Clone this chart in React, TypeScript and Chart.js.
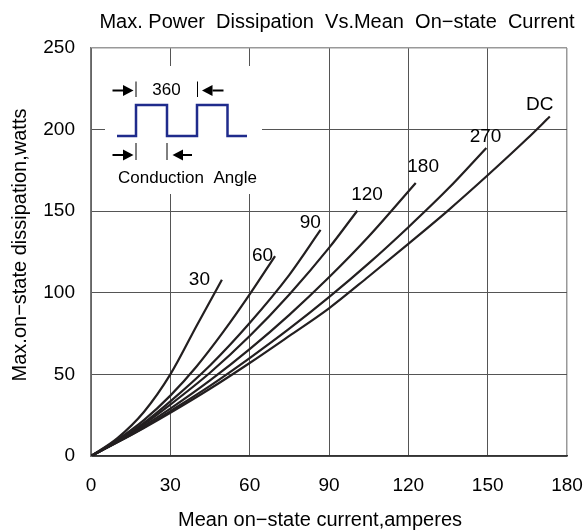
import React, { useEffect, useRef } from 'react';
import { Chart, registerables } from 'chart.js';

Chart.register(...registerables);

const FONT = '"Liberation Sans", Arial, Helvetica, sans-serif';

const titleText = 'Max. Power  Dissipation  Vs.Mean  On\u2212state  Current';
const xAxisTitle = 'Mean on\u2212state current,amperes';
const yAxisTitle = 'Max.on\u2212state dissipation,watts';

const xTickValues = [0, 30, 60, 90, 120, 150, 180];
const yTickValues = [0, 50, 100, 150, 200, 250];

const curveNames = ['30', '60', '90', '120', '180', '270', 'DC'];

const current30 = [0, 10, 20, 30, 40, 49.5];
const power30 = [0, 11, 27, 50, 80, 108];

const current60 = [0, 10, 20, 30, 40, 50, 60, 69.6];
const power60 = [0, 10, 22, 37, 55, 76, 99, 122.5];

const current90 = [0, 10, 20, 30, 45, 60, 75, 86.8];
const power90 = [0, 9.2, 20.3, 33.5, 55.5, 81.5, 111, 138.5];

const current120 = [0, 10, 20, 30, 45, 60, 75, 90, 100.7];
const power120 = [0, 9, 19.5, 31.5, 51, 73.5, 99, 127.5, 150.3];

const current180 = [0, 10, 20, 30, 45, 60, 75, 90, 105, 122.8];
const power180 = [0, 8.7, 18.4, 29, 46.3, 65.5, 86.5, 109.5, 134.5, 167.3];

const current270 = [0, 10, 20, 30, 45, 60, 75, 90, 105, 120, 135, 149.5];
const power270 = [0, 8.5, 17.5, 27.5, 43, 60, 78, 97.3, 118, 140.2, 163.7, 188.8];

const currentDC = [0, 10, 20, 30, 45, 60, 75, 90, 105, 120, 135, 150, 165, 173.5];
const powerDC = [0, 8.4, 17.2, 26.5, 41.2, 57, 73.6, 90.5, 110, 130, 150.4, 172, 194.5, 208];

const curveCurrents = [current30, current60, current90, current120, current180, current270, currentDC];
const curvePowers = [power30, power60, power90, power120, power180, power270, powerDC];

// label anchors in data units
const labelAnchorX = [41, 64.9, 82.9, 104.4, 125.6, 149.2, 169.7];
const labelAnchorY = [108, 122.7, 142.8, 160.1, 177.5, 195.5, 215.3];

const LINE_COLOR = '#231f20';
const WAVE_COLOR = '#1f2b8c';

function arrow(ctx: CanvasRenderingContext2D, tail: number, tip: number, y: number) {
  const dir = tip > tail ? 1 : -1;
  const base = tip - dir * 10.5;
  ctx.beginPath();
  ctx.moveTo(tail, y);
  ctx.lineTo(base, y);
  ctx.stroke();
  ctx.beginPath();
  ctx.moveTo(tip, y);
  ctx.lineTo(base, y - 5.5);
  ctx.lineTo(base, y + 5.5);
  ctx.closePath();
  ctx.fill();
}

const annotatePlugin = {
  id: 'annotate',
  beforeDatasetsDraw(chart: any) {
    const { ctx } = chart;
    ctx.save();
    ctx.fillStyle = '#fff';
    ctx.fillRect(105, 66, 157, 128);
    ctx.restore();
  },
  afterDraw(chart: any) {
    const { ctx, scales } = chart;
    const xs = scales.x;
    const ys = scales.y;
    ctx.save();
    ctx.fillStyle = '#000';
    ctx.textAlign = 'center';
    ctx.textBaseline = 'middle';

    ctx.font = `20px ${FONT}`;
    ctx.fillText(titleText, 337, 22);
    ctx.fillText(xAxisTitle, 320, 520);
    ctx.save();
    ctx.translate(20, 245);
    ctx.rotate(-Math.PI / 2);
    ctx.fillText(yAxisTitle, 0, 0);
    ctx.restore();

    ctx.font = `19px ${FONT}`;
    curveNames.forEach((name, i) => {
      ctx.fillText(name, xs.getPixelForValue(labelAnchorX[i]), ys.getPixelForValue(labelAnchorY[i]));
    });

    // inset: conduction angle waveform
    ctx.strokeStyle = WAVE_COLOR;
    ctx.lineWidth = 2.5;
    ctx.lineJoin = 'miter';
    const lo = 136;
    const hi = 105;
    ctx.beginPath();
    ctx.moveTo(117, lo);
    ctx.lineTo(136, lo);
    ctx.lineTo(136, hi);
    ctx.lineTo(167, hi);
    ctx.lineTo(167, lo);
    ctx.lineTo(197, lo);
    ctx.lineTo(197, hi);
    ctx.lineTo(227.5, hi);
    ctx.lineTo(227.5, lo);
    ctx.lineTo(247, lo);
    ctx.stroke();

    ctx.strokeStyle = '#000';
    ctx.fillStyle = '#000';
    ctx.lineWidth = 1;
    ctx.beginPath();
    ctx.moveTo(136, 81.5); ctx.lineTo(136, 97);
    ctx.moveTo(197.5, 81.5); ctx.lineTo(197.5, 97);
    ctx.moveTo(136, 143); ctx.lineTo(136, 160);
    ctx.moveTo(167, 143); ctx.lineTo(167, 160);
    ctx.stroke();
    ctx.lineWidth = 2;
    arrow(ctx, 112.5, 133.5, 90.5);
    arrow(ctx, 223.5, 202, 90.5);
    arrow(ctx, 112.5, 133.5, 155);
    arrow(ctx, 192, 172.5, 155);

    ctx.font = `17px ${FONT}`;
    ctx.fillText('360', 166.5, 90.5);
    ctx.textAlign = 'left';
    ctx.fillText('Conduction  Angle', 118, 178);
    ctx.restore();
  },
};

export default function App() {
  const ref = useRef<HTMLCanvasElement | null>(null);

  useEffect(() => {
    if (!ref.current) return;
    const datasets = curveNames.map((name, i) => ({
      label: name,
      data: curveCurrents[i].map((c, j) => ({ x: c, y: curvePowers[i][j] })),
      borderColor: LINE_COLOR,
      backgroundColor: LINE_COLOR,
      borderWidth: 2.2,
      pointRadius: 0,
      cubicInterpolationMode: 'monotone' as const,
      fill: false,
    }));

    const chart = new Chart(ref.current, {
      type: 'line',
      data: { datasets },
      plugins: [annotatePlugin],
      options: {
        animation: false,
        responsive: false,
        devicePixelRatio: window.devicePixelRatio || 1,
        layout: { padding: { top: 48, right: 19, left: 0, bottom: 0 } },
        plugins: {
          legend: { display: false },
          title: { display: false },
          tooltip: { enabled: false },
        },
        scales: {
          x: {
            type: 'linear',
            min: 0,
            max: 180,
            afterFit: (scale: any) => {
              scale.height = 74;
              scale.paddingLeft = 0;
              scale.paddingRight = 0;
            },
            afterBuildTicks: (scale: any) => {
              scale.ticks = xTickValues.map((v) => ({ value: v }));
            },
            ticks: {
              color: '#000',
              font: { family: FONT, size: 19 },
              padding: 18,
              maxRotation: 0,
              autoSkip: false,
            },
            grid: {
              drawTicks: false,
              color: (c: any) => (c.tick && c.tick.value === 180 ? '#999' : '#555'),
              lineWidth: (c: any) => (c.tick && c.tick.value === 180 ? 1.5 : 1),
            },
            border: { color: '#333', width: 1.5 },
          },
          y: {
            type: 'linear',
            min: 0,
            max: 250,
            afterFit: (scale: any) => {
              scale.width = 91;
              scale.paddingTop = 0;
              scale.paddingBottom = 0;
            },
            afterBuildTicks: (scale: any) => {
              scale.ticks = yTickValues.map((v) => ({ value: v }));
            },
            ticks: {
              color: '#000',
              font: { family: FONT, size: 19 },
              padding: 16,
              autoSkip: false,
            },
            grid: {
              drawTicks: false,
              color: (c: any) => (c.tick && c.tick.value === 250 ? '#999' : '#555'),
              lineWidth: (c: any) => (c.tick && c.tick.value === 250 ? 1.5 : 1),
            },
            border: { color: '#777', width: 1.5 },
          },
        },
      },
    } as any);
    return () => chart.destroy();
  }, []);

  return (
    <div style={{ position: 'absolute', left: 0, top: 0, width: 586, height: 530, background: '#fff' }}>
      <canvas ref={ref} width={586} height={530} style={{ width: 586, height: 530, display: 'block' }} />
    </div>
  );
}
